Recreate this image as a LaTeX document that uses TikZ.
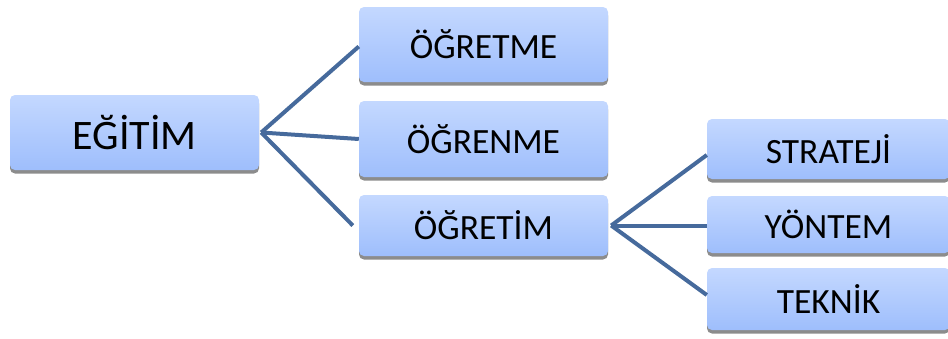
\documentclass[tikz,border=0pt]{standalone}
\usepackage{fontspec}
\setmainfont{Carlito}
\usepackage{tikz}
\usetikzlibrary{shadows, positioning}
\definecolor{boxTop}{RGB}{196,216,255}
\definecolor{boxBottom}{RGB}{158,190,252}
\definecolor{branch}{RGB}{70,106,156}
\tikzstyle{concept}=[rectangle, rounded corners=5pt, top color=boxTop, bottom color=boxBottom, minimum width=249pt, inner sep=0pt, text=black, drop shadow={shadow xshift=0pt, shadow yshift=-3.5pt, fill=black!45, opacity=1}]
\tikzstyle{bigText}=[font=\fontsize{42}{50}\selectfont]
\tikzstyle{smallText}=[font=\fontsize{35.5}{42}\selectfont]
\tikzstyle{branchLine}=[draw=branch, line width=4pt]

\begin{document}
\begin{tikzpicture}[x=1pt, y=-1pt]
    \useasboundingbox (0, 0) rectangle (948, 338);

    \node (egitim)[concept, bigText, minimum height=75pt] at (134.5, 132.5) {EĞİTİM};

    \node (ogretme)[concept, smallText, minimum height=75pt] at (483.5, 44.5) {ÖĞRETME};
    \node (ogrenme)[concept, smallText, minimum height=76pt] at (483.5, 139) {ÖĞRENME};
    \node (ogretim)[concept, smallText, minimum height=61pt] at (483.5, 225.5) {ÖĞRETİM};

    \node (strateji)[concept, smallText, minimum height=60pt, minimum width=243pt] at (828.5, 149) {STRATEJİ};
    \node (yontem)[concept, smallText, minimum height=57pt, minimum width=243pt] at (828.5, 224.5) {YÖNTEM};
    \node (teknik)[concept, smallText, minimum height=62pt, minimum width=243pt] at (828.5, 299) {TEKNİK};

    \draw[branchLine] ([xshift=2pt]egitim.east) -- ([yshift=-2pt]ogretme.west);
    \draw[branchLine] ([xshift=2pt]egitim.east) -- (ogrenme.west);
    \draw[branchLine] ([xshift=2pt]egitim.east) -- ([xshift=-6pt]ogretim.west);

    \draw[branchLine] ([xshift=3pt]ogretim.east) -- ([yshift=-6pt]strateji.west);
    \draw[branchLine] ([xshift=3pt]ogretim.east) -- ([yshift=-1pt]yontem.west);
    \draw[branchLine] ([xshift=3pt]ogretim.east) -- ([yshift=4pt]teknik.west);

\end{tikzpicture}
\end{document}
